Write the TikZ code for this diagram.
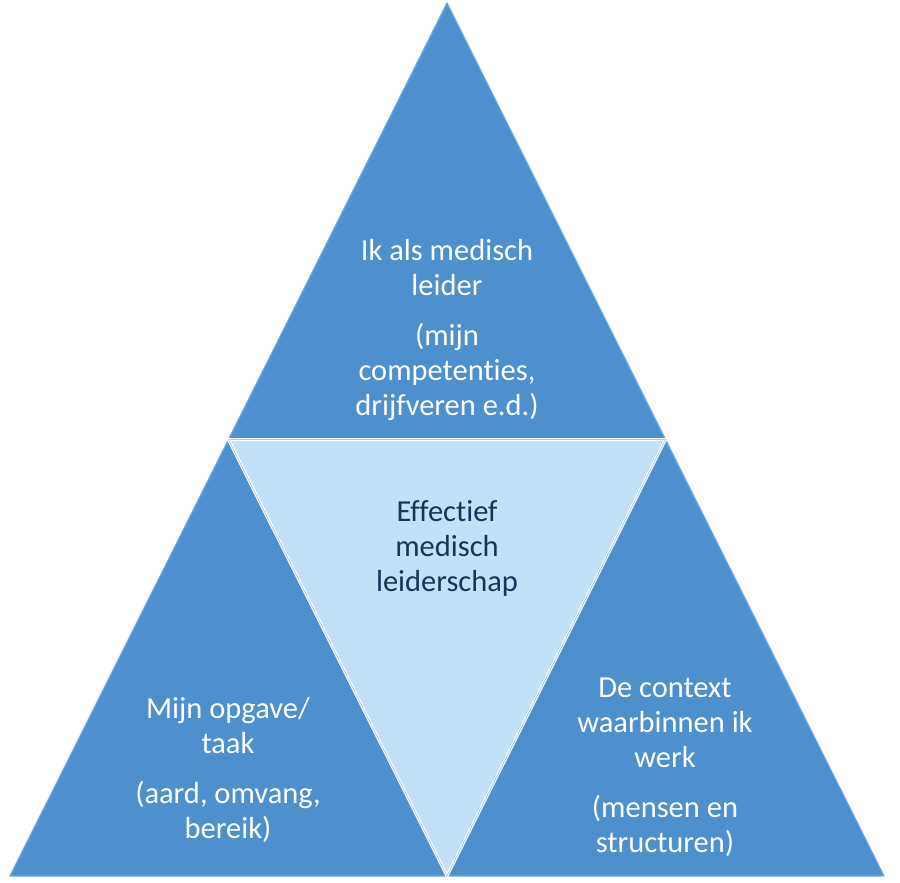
\documentclass[tikz,border=0pt]{standalone}
\usepackage{fontspec}
\setmainfont[Ligatures={NoCommon}]{Carlito}
\usepackage{tikz}
\usetikzlibrary{positioning,calc}
\definecolor{TriBlue}{HTML}{4E8FCE}
\definecolor{TriEdge}{HTML}{6AAAE6}
\definecolor{CoreBlue}{HTML}{C3E0FB}
\definecolor{CoreText}{HTML}{17355A}

\begin{document}
\begin{tikzpicture}[x=1pt,y=-1pt,
    every node/.style={font=\fontsize{30.5}{35}\selectfont, align=center},
    outer/.style={fill=TriBlue, draw=TriEdge, line width=1.2pt, line join=round},
    core/.style={fill=CoreBlue, draw=white, line width=3pt, line join=round},
    outtxt/.style={text=white},
    coretxt/.style={text=CoreText}]
  \useasboundingbox (0,0) rectangle (900,883);
  % corners of the big triangle
  \coordinate (apex) at (447,3);
  \coordinate (bl) at (10,876);
  \coordinate (br) at (884,876);
  \coordinate (ml) at ($(apex)!0.5!(bl)$);
  \coordinate (mr) at ($(apex)!0.5!(br)$);
  \coordinate (mb) at ($(bl)!0.5!(br)$);
  % three outer triangles
  \filldraw[outer] (apex) -- (mr) -- (ml) -- cycle;
  \filldraw[outer] (ml) -- (mb) -- (bl) -- cycle;
  \filldraw[outer] (mr) -- (br) -- (mb) -- cycle;
  % middle triangle
  \filldraw[core] (ml) -- (mr) -- (mb) -- cycle;
  \draw[TriEdge!60!white, line width=0.8pt] (ml) -- (mr) -- (mb) -- cycle;
  % texts
  \node[outtxt] (top) at (447,330)
    {Ik als medisch\\leider\\[15pt](mijn\\competenties,\\drijfveren e.d.)};
  \node[coretxt] (mid) at (447,548)
    {Effectief\\medisch\\leiderschap};
  \node[outtxt] (left) at (228,770)
    {Mijn opgave/\\taak\\[15pt](aard, omvang,\\bereik)};
  \node[outtxt] (right) at (665,767)
    {De context\\waarbinnen ik\\werk\\[15pt](mensen en\\structuren)};
\end{tikzpicture}
\end{document}
